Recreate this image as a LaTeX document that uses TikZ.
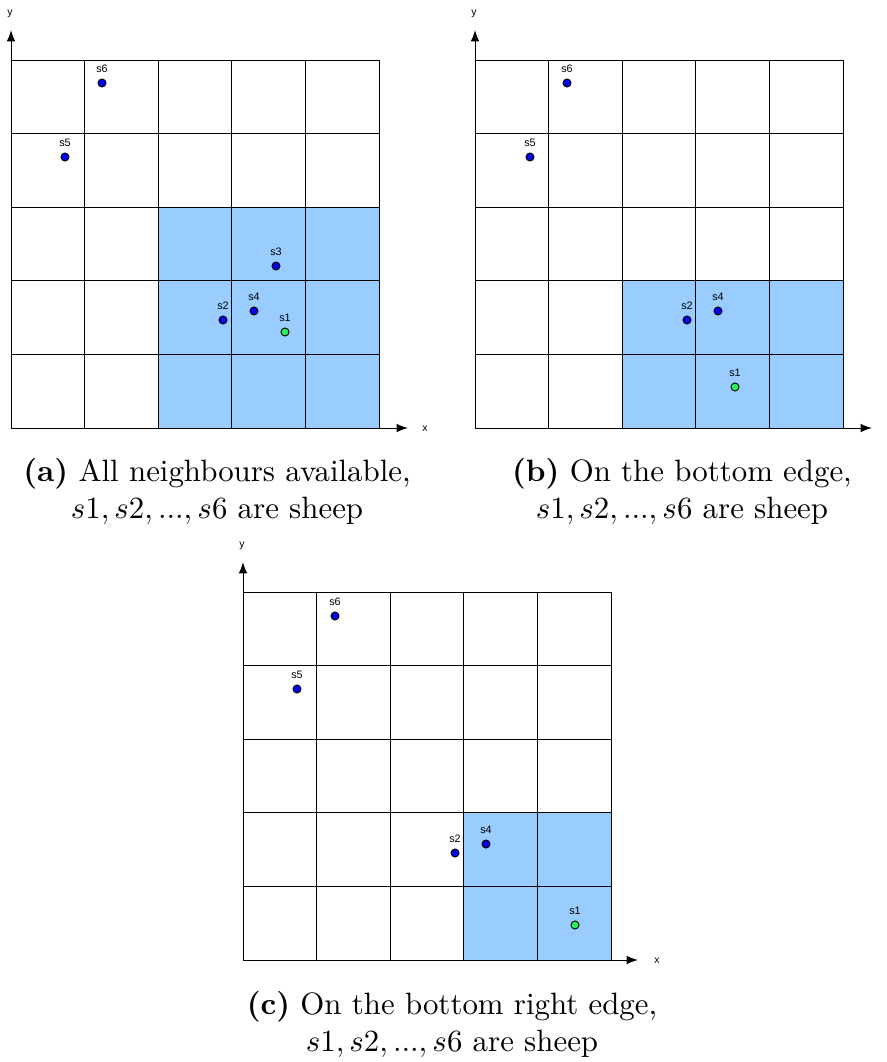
\documentclass[tikz,border=0pt]{standalone}
\usepackage{fontspec}
\newfontfamily\sheepfont{Liberation Sans}
\usetikzlibrary{arrows}
\usetikzlibrary{math}
\definecolor{cellblue}{RGB}{153,204,255}
\definecolor{sheepblue}{RGB}{0,0,235}
\definecolor{sheepgreen}{RGB}{40,245,90}

\tikzset{
  gridline/.style={line width=0.3pt,color=black},
  axisline/.style={-latex,line width=0.3pt,color=black},
  sheep/.style={circle,draw=black,line width=0.3pt,fill=sheepblue,inner sep=0pt,minimum size=2.6pt,
    label={[sheeplabel]above:#1}},
  firstsheep/.style={sheep=#1,fill=sheepgreen},
  sheeplabel/.style={inner sep=0pt,label distance=1.8pt,font=\sheepfont\fontsize{3.5}{4}\selectfont},
  axislabel/.style={inner sep=0pt,font=\sheepfont\fontsize{3.4}{4}\selectfont},
  caption/.style={align=center,font=\fontsize{10}{12}\selectfont}
}

\begin{document}
\begin{tikzpicture}[x=0.324pt,y=0.324pt]
\tikzmath{
\c=73.6;%cell size
\n=5*\c;%field size
}
\useasboundingbox (0,0) rectangle (886,1062);

% (a) all neighbours
\begin{scope}[shift={(11,634)}]
\fill[cellblue] (2*\c,0) rectangle (5*\c,3*\c);
\foreach \i in {0,...,5}{
  \draw[gridline] (\i*\c,0) -- (\i*\c,\n);
  \draw[gridline] (0,\i*\c) -- (\n,\i*\c);
}
\draw[axisline] (0,0) -- (0,398) coordinate (ayend);
\draw[axisline] (0,0) -- (397,0) coordinate (axend);
\node[axislabel] (aylabel) at (-1,414) {y};
\node[axislabel] (axlabel) at (414,-1) {x};
\node[sheep=s6] (a6) at (91,345) {};
\node[sheep=s5] (a5) at (54,271) {};
\node[sheep=s3] (a3) at (265,162) {};
\node[sheep=s2] (a2) at (212,108) {};
\node[sheep=s4] (a4) at (243,117) {};
\node[firstsheep=s1] (a1) at (274,96) {};
\end{scope}

% (b) bottom edge
\begin{scope}[shift={(475,634)}]
\fill[cellblue] (2*\c,0) rectangle (5*\c,2*\c);
\foreach \i in {0,...,5}{
  \draw[gridline] (\i*\c,0) -- (\i*\c,\n);
  \draw[gridline] (0,\i*\c) -- (\n,\i*\c);
}
\draw[axisline] (0,0) -- (0,398) coordinate (byend);
\draw[axisline] (0,0) -- (397,0) coordinate (bxend);
\node[axislabel] (bylabel) at (-1,414) {y};
\node[sheep=s6] (b6) at (92,345) {};
\node[sheep=s5] (b5) at (55,271) {};
\node[sheep=s2] (b2) at (212,108) {};
\node[sheep=s4] (b4) at (243,117) {};
\node[firstsheep=s1] (b1) at (260,41) {};
\end{scope}

% (c) bottom right edge
\begin{scope}[shift={(243,102)}]
\fill[cellblue] (3*\c,0) rectangle (5*\c,2*\c);
\foreach \i in {0,...,5}{
  \draw[gridline] (\i*\c,0) -- (\i*\c,\n);
  \draw[gridline] (0,\i*\c) -- (\n,\i*\c);
}
\draw[axisline] (0,0) -- (0,398) coordinate (cyend);
\draw[axisline] (0,0) -- (395,0) coordinate (cxend);
\node[axislabel] (cylabel) at (-1,414) {y};
\node[axislabel] (cxlabel) at (414,-1) {x};
\node[sheep=s6] (c6) at (92,344) {};
\node[sheep=s5] (c5) at (54,271) {};
\node[sheep=s2] (c2) at (212,107) {};
\node[sheep=s4] (c4) at (243,116) {};
\node[firstsheep=s1] (c1) at (332,35) {};
\end{scope}

\node[caption] (acap) at (217,571) {\textbf{(a)} All neighbours available,\\$s1,s2,...,s6$ are sheep};
\node[caption] (bcap) at (682,571) {\textbf{(b)} On the bottom edge,\\$s1,s2,...,s6$ are sheep};
\node[caption] (ccap) at (452,38) {\textbf{(c)} On the bottom right edge,\\$s1,s2,...,s6$ are sheep};
\end{tikzpicture}
\end{document}
